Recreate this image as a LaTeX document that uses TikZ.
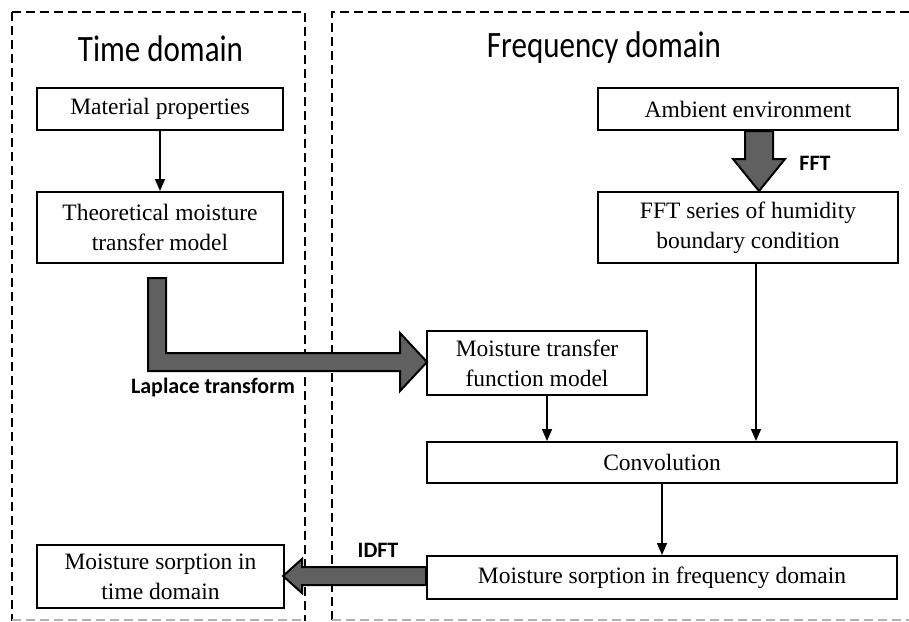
\documentclass[tikz,border=0pt]{standalone}
\usepackage{fontspec}
\setmainfont{Liberation Serif}
\newfontfamily\calib{Carlito}
\usetikzlibrary{arrows.meta,calc}
\definecolor{arrgray}{HTML}{606060}
\begin{document}
\begin{tikzpicture}[x=1pt,y=-1pt,
  box/.style={draw,line width=2pt,fill=white,align=center,inner sep=0pt,
    font=\fontsize{23.5}{30}\selectfont},
  thinarrow/.style={line width=1.6pt,-{Triangle[length=12pt,width=10pt]}},
  fatarrow/.style={draw,line width=2pt,fill=arrgray,line join=miter},
  frame/.style={line width=2.2pt,dash pattern=on 9pt off 5pt},
  title/.style={font=\calib\fontsize{31}{31}\selectfont},
  lbl/.style={font=\calib\bfseries\fontsize{22}{22}\selectfont}]
\useasboundingbox (0,0) rectangle (909,621);
% frames
\draw[frame] (12,12) -- (305,12) -- (305,621);
\draw[frame] (12,12) -- (12,621);
\draw[frame,gray!60] (12,620) -- (305,620);
\draw[frame] (909,12) -- (332,12) -- (332,621);
\draw[frame,gray!60] (332,620) -- (909,620);
% titles
\node[title] (tt) at (160.5,49) {\scalebox{1}[1.2]{Time domain}};
\node[title] (ft) at (604,48) {\scalebox{1}[1.2]{Frequency domain}};
% boxes
\node[box,minimum width=246pt,minimum height=42pt] (mat) at (160,109) {Material properties};
\node[box,minimum width=246pt,minimum height=71pt] (theo) at (160,227.5) {Theoretical moisture\\transfer model};
\node[box,minimum width=300pt,minimum height=42pt] (amb) at (748,109) {Ambient environment};
\node[box,minimum width=300pt,minimum height=71pt] (fft) at (748,227.5) {FFT series of humidity\\boundary condition};
\node[box,minimum width=220pt,minimum height=64pt] (tf) at (537,363) {Moisture transfer\\function model};
\node[box,minimum width=470pt,minimum height=41pt] (conv) at (662,462.5) {Convolution};
\node[box,minimum width=470pt,minimum height=43pt] (sf) at (662,577.5) {Moisture sorption in frequency domain};
\node[box,minimum width=247pt,minimum height=63pt] (st) at (160.5,576.5) {Moisture sorption in\\time domain};
% thin arrows
\draw[thinarrow] (mat) -- (theo);
\draw[thinarrow] ($(tf.south)+(10,0)$) coordinate (a1) -- (a1 |- conv.north);
\draw[thinarrow] ($(fft.south)+(8,0)$) coordinate (a2) -- (a2 |- conv.north);
\draw[thinarrow] (conv) -- (sf);
% thick arrows
\draw[fatarrow] ($(amb.south)+(-3,0)$) -- ++(0,28) -- ++(-12,0) -- ++(26,32) -- ++(26,-32) -- ++(-12,0) -- ++(0,-28) -- cycle;
\draw[fatarrow] ($(theo.south)+(-12,14)$) -- ++(18,0) -- ++(0,75) -- ++(234,0) -- ++(0,-20) -- ++(27,29) -- ++(-27,29) -- ++(0,-20) -- ++(-252,0) -- cycle;
\draw[fatarrow] ($(sf.west)+(0,-10.5)$) -- ++(-124,0) -- ++(0,-8) -- ++(-19,17) -- ++(19,17) -- ++(0,-8) -- ++(124,0) -- cycle;
% labels
\node[lbl] (lap) at (213,388) {Laplace transform};
\node[lbl] (fftl) at (815,163) {FFT};
\node[lbl] (idft) at (378,550) {IDFT};
\end{tikzpicture}
\end{document}
